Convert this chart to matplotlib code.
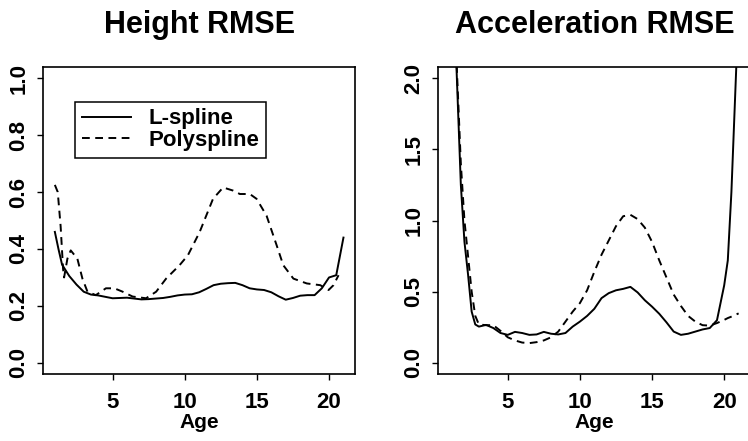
import matplotlib
matplotlib.use("Agg")
import matplotlib.pyplot as plt

plt.rcParams["font.family"] = ["Liberation Sans", "DejaVu Sans"]

# Height RMSE
age_h = [1.0, 1.25, 1.5, 2.0, 2.5, 3.0, 3.5, 4.0, 4.5, 5.0, 5.5, 6.0, 6.5, 7.0,
         7.5, 8.0, 8.5, 9.0, 9.5, 10.0, 10.5, 11.0, 11.5, 12.0, 12.5, 13.0, 13.5,
         14.0, 14.5, 15.0, 15.5, 16.0, 16.5, 17.0, 17.5, 18.0, 18.5, 19.0, 19.5,
         20.0, 20.5, 21.0]
lspline_h = [0.46, 0.40, 0.345, 0.305, 0.275, 0.25, 0.24, 0.237, 0.232, 0.227,
             0.228, 0.229, 0.226, 0.223, 0.224, 0.226, 0.228, 0.232, 0.237, 0.240,
             0.241, 0.248, 0.26, 0.273, 0.278, 0.28, 0.281, 0.273, 0.262, 0.258,
             0.256, 0.248, 0.234, 0.222, 0.228, 0.236, 0.238, 0.238, 0.262, 0.30,
             0.308, 0.44]

age_hp = [1.0, 1.2, 1.4, 1.57, 1.64, 1.87, 2.1, 2.56, 2.91, 3.26, 3.84, 4.54, 5.12,
          5.7, 6.39, 7.32, 8.02, 8.71, 9.64, 10.22, 11.03, 11.96, 12.66, 13.35,
          13.82, 14.51, 14.98, 15.67, 16.37, 16.83, 17.53, 18.46, 19.39, 19.97,
          20.31, 20.66]
poly_h = [0.625, 0.60, 0.48, 0.33, 0.30, 0.366, 0.395, 0.366, 0.296, 0.25, 0.238,
          0.262, 0.262, 0.25, 0.233, 0.227, 0.25, 0.296, 0.343, 0.378, 0.459,
          0.576, 0.616, 0.605, 0.593, 0.593, 0.576, 0.517, 0.413, 0.343, 0.296,
          0.279, 0.273, 0.256, 0.273, 0.308]

# Acceleration RMSE
age_a = [1.0, 1.5, 1.75, 2.0, 2.25, 2.5, 2.75, 3.0, 3.5, 4.0, 4.5, 5.0, 5.5, 6.0,
         6.5, 7.0, 7.5, 8.0, 8.5, 9.0, 9.5, 10.0, 10.5, 11.0, 11.5, 12.0, 12.5,
         13.0, 13.5, 14.0, 14.5, 15.0, 15.5, 16.0, 16.5, 17.0, 17.5, 18.0, 18.5,
         19.0, 19.5, 20.0, 20.25, 20.5, 20.75, 21.0]
lspline_a = [3.3, 1.93, 1.25, 0.85, 0.62, 0.36, 0.27, 0.255, 0.267, 0.245, 0.21,
             0.197, 0.218, 0.21, 0.197, 0.2, 0.218, 0.205, 0.2, 0.21, 0.255, 0.29,
             0.33, 0.38, 0.455, 0.49, 0.51, 0.52, 0.534, 0.495, 0.44, 0.395, 0.345,
             0.285, 0.22, 0.197, 0.205, 0.22, 0.235, 0.245, 0.3, 0.545, 0.72, 1.2,
             1.85, 2.5]
poly_a = [3.3, 2.0, 1.4, 1.0, 0.75, 0.5, 0.33, 0.27, 0.265, 0.265, 0.225, 0.18,
          0.158, 0.143, 0.139, 0.146, 0.158, 0.18, 0.22, 0.29, 0.36, 0.42, 0.51,
          0.64, 0.76, 0.86, 0.96, 1.03, 1.04, 1.01, 0.95, 0.85, 0.72, 0.6, 0.48,
          0.4, 0.33, 0.29, 0.265, 0.262, 0.28, 0.302, 0.315, 0.325, 0.336, 0.348]

titles = ["Height RMSE", "Acceleration RMSE"]
xticks = [5, 10, 15, 20]
yticks_h = [0.0, 0.2, 0.4, 0.6, 0.8, 1.0]
yticks_a = [0.0, 0.5, 1.0, 1.5, 2.0]

dash = (0, (4, 2.8))

fig = plt.figure(figsize=(7.48, 4.41), dpi=100)
ax1 = fig.add_axes([0.0579, 0.1512, 0.4167, 0.6976])
ax2 = fig.add_axes([0.5862, 0.1512, 0.4167, 0.6976])

ax1.plot(age_h, lspline_h, color="black", lw=1.4, label="L-spline")
ax1.plot(age_hp, poly_h, color="black", lw=1.4, linestyle=dash, label="Polyspline")
ax1.set_ylim(-0.04, 1.04)
ax1.set_yticks(yticks_h)
ax1.set_yticklabels([f"{v:.1f}" for v in yticks_h])

ax2.plot(age_a, lspline_a, color="black", lw=1.4)
ax2.plot(age_a, poly_a, color="black", lw=1.4, linestyle=dash)
ax2.set_ylim(-0.08, 2.08)
ax2.set_yticks(yticks_a)
ax2.set_yticklabels([f"{v:.1f}" for v in yticks_a])

for ax, t in zip([ax1, ax2], titles):
    ax.set_xlim(0.2, 21.8)
    ax.set_xticks(xticks)
    ax.set_title(t, fontsize=22, fontweight="bold", pad=24)
    ax.set_xlabel("Age", fontsize=15, fontweight="bold", labelpad=0)
    ax.tick_params(direction="out", length=4, width=1, pad=9, labelsize=16)
    for lab in ax.get_xticklabels() + ax.get_yticklabels():
        lab.set_fontweight("bold")
    for lab in ax.get_yticklabels():
        lab.set_rotation(90)
        lab.set_va("center")
    ax.tick_params(axis="y", pad=6)
    for s in ax.spines.values():
        s.set_linewidth(1.2)

leg = ax1.legend(loc="upper left", bbox_to_anchor=(0.102, 0.886),
                 prop={"weight": "bold", "size": 16}, frameon=True, fancybox=False,
                 edgecolor="black", framealpha=1, labelspacing=0.02,
                 handlelength=2.2, handletextpad=0.8, borderpad=0.3,
                 borderaxespad=0)
leg.get_frame().set_linewidth(1.1)

fig.savefig("out.png", dpi=100)
